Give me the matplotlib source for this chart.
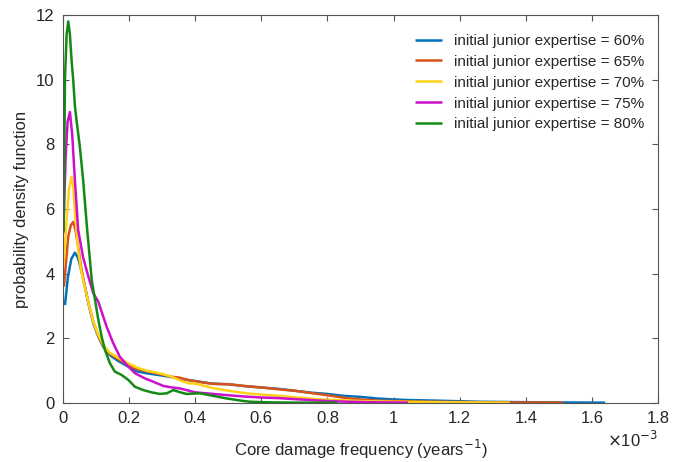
import numpy as np
import matplotlib
matplotlib.use("Agg")
import matplotlib.pyplot as plt

plt.rcParams['font.family'] = ['Liberation Sans', 'DejaVu Sans']

labels = ["initial junior expertise = 60%", "initial junior expertise = 65%",
          "initial junior expertise = 70%", "initial junior expertise = 75%",
          "initial junior expertise = 80%"]
colors = ["#0072BD", "#D95319", "#FFD21A", "#CC10CC", "#138A13"]

# x values in units of 1e-3 years^-1
x60 = [0.006, 0.015, 0.025, 0.036, 0.045, 0.053, 0.061, 0.077, 0.092, 0.107, 0.122, 0.142, 0.167, 0.193,
       0.223, 0.253, 0.293, 0.33, 0.36, 0.4, 0.45, 0.5, 0.55, 0.6, 0.65, 0.7, 0.75, 0.8, 0.85,
       0.9, 0.95, 1.0, 1.05, 1.1, 1.18, 1.25, 1.35, 1.45, 1.55, 1.64]
y60 = [3.03, 3.9, 4.45, 4.65, 4.5, 4.2, 3.85, 3.08, 2.46, 2.05, 1.74, 1.48, 1.3, 1.15,
       0.98, 0.92, 0.86, 0.8, 0.74, 0.68, 0.6, 0.58, 0.52, 0.48, 0.44, 0.38, 0.32, 0.28, 0.22,
       0.19, 0.14, 0.11, 0.09, 0.08, 0.06, 0.04, 0.03, 0.02, 0.015, 0.01]

x65 = [0.003, 0.016, 0.024, 0.031, 0.038, 0.046, 0.055, 0.061, 0.077, 0.092, 0.107, 0.122, 0.142, 0.167,
       0.193, 0.223, 0.253, 0.278, 0.3, 0.329, 0.35, 0.379, 0.42, 0.455, 0.5, 0.556, 0.6,
       0.656, 0.7, 0.757, 0.8, 0.858, 0.9, 0.959, 1.0, 1.1, 1.2, 1.3, 1.4, 1.513]
y65 = [3.6, 5.15, 5.5, 5.6, 5.35, 4.83, 4.2, 3.85, 3.1, 2.5, 2.08, 1.76, 1.52, 1.36,
       1.2, 1.05, 0.98, 0.93, 0.88, 0.81, 0.79, 0.71, 0.64, 0.59, 0.58, 0.52, 0.48,
       0.42, 0.38, 0.3, 0.24, 0.15, 0.11, 0.07, 0.06, 0.04, 0.03, 0.02, 0.015, 0.01]

x70 = [0.002, 0.011, 0.018, 0.026, 0.031, 0.036, 0.046, 0.055, 0.061, 0.077, 0.092, 0.107, 0.122, 0.142,
       0.167, 0.193, 0.223, 0.253, 0.278, 0.3, 0.329, 0.354, 0.379, 0.4, 0.455, 0.5, 0.556, 0.6,
       0.656, 0.7, 0.757, 0.8, 0.858, 0.9, 1.0, 1.1, 1.2, 1.352]
y70 = [4.3, 5.66, 6.6, 7.0, 6.7, 5.9, 4.73, 4.1, 3.8, 3.1, 2.5, 2.1, 1.8, 1.55,
       1.4, 1.25, 1.1, 1.0, 0.95, 0.9, 0.81, 0.7, 0.61, 0.6, 0.46, 0.38, 0.3, 0.26,
       0.22, 0.18, 0.13, 0.1, 0.08, 0.06, 0.04, 0.03, 0.02, 0.01]

x75 = [0.001, 0.008, 0.014, 0.021, 0.028, 0.036, 0.046, 0.061, 0.077, 0.092, 0.107, 0.117, 0.132, 0.152,
       0.172, 0.193, 0.218, 0.248, 0.273, 0.303, 0.324, 0.354, 0.4, 0.455, 0.5, 0.55, 0.6, 0.656, 0.7,
       0.75, 0.8, 0.858, 0.95, 1.044]
y75 = [5.25, 7.6, 8.7, 9.0, 8.3, 6.9, 5.35, 4.5, 3.9, 3.39, 3.13, 2.82, 2.36, 1.85,
       1.43, 1.18, 0.92, 0.76, 0.66, 0.53, 0.49, 0.45, 0.33, 0.28, 0.24, 0.2, 0.17, 0.15, 0.12,
       0.09, 0.06, 0.04, 0.02, 0.01]

x80 = [0.002, 0.006, 0.011, 0.016, 0.021, 0.026, 0.031, 0.036, 0.041, 0.051, 0.061, 0.072, 0.08, 0.087,
       0.097, 0.107, 0.117, 0.127, 0.142, 0.157, 0.177, 0.198, 0.218, 0.243, 0.268, 0.293, 0.314,
       0.334, 0.355, 0.374, 0.414, 0.44, 0.465, 0.49, 0.515, 0.54, 0.565, 0.62, 0.7, 0.83]
y80 = [5.3, 10.0, 11.4, 11.8, 11.4, 10.6, 10.0, 9.2, 8.75, 7.93, 6.9, 5.5, 4.6, 3.8,
       3.19, 2.57, 2.05, 1.64, 1.23, 0.97, 0.87, 0.71, 0.5, 0.4, 0.33, 0.28, 0.30,
       0.40, 0.33, 0.28, 0.30, 0.25, 0.2, 0.15, 0.11, 0.07, 0.04, 0.02, 0.012, 0.01]

xs = [x60, x65, x70, x75, x80]
ys = [y60, y65, y70, y75, y80]

xticks = [0, 0.2, 0.4, 0.6, 0.8, 1, 1.2, 1.4, 1.6, 1.8]
yticks = [0, 2, 4, 6, 8, 10, 12]

fig = plt.figure(figsize=(6.83, 4.62), dpi=100)
ax = fig.add_axes([0.0922, 0.1277, 0.8712, 0.8398])

for x, y, c, lab in zip(xs, ys, colors, labels):
    ax.plot(x, y, color=c, lw=1.8, label=lab, solid_capstyle='butt')

txtc = '#262626'
axc = '#555555'
ax.set_xlim(0, 1.8)
ax.set_ylim(0, 12)
ax.set_xticks(xticks)
ax.set_xticklabels([f"{t:g}" for t in xticks])
ax.set_yticks(yticks)
ax.tick_params(direction='in', top=True, right=True, length=4, width=0.8,
               colors=axc, labelcolor=txtc, labelsize=12, pad=6)
for s in ax.spines.values():
    s.set_color(axc)
    s.set_linewidth(0.8)

ax.set_xlabel("Core damage frequency (years$^{-1}$)", fontsize=12, color=txtc, labelpad=8)
ax.set_ylabel("probability density function", fontsize=12, color=txtc, labelpad=5)
ax.text(1.0, -0.07, r"$\times$10$^{-3}$", transform=ax.transAxes, ha='right', va='top',
        fontsize=12, color=txtc)

leg = ax.legend(loc='upper right', bbox_to_anchor=(0.993, 0.975), frameon=False, fontsize=11,
                handlelength=1.75, handletextpad=0.8, labelspacing=0.45, borderaxespad=0.2)
for t in leg.get_texts():
    t.set_color(txtc)

fig.savefig("out.png", dpi=100)
